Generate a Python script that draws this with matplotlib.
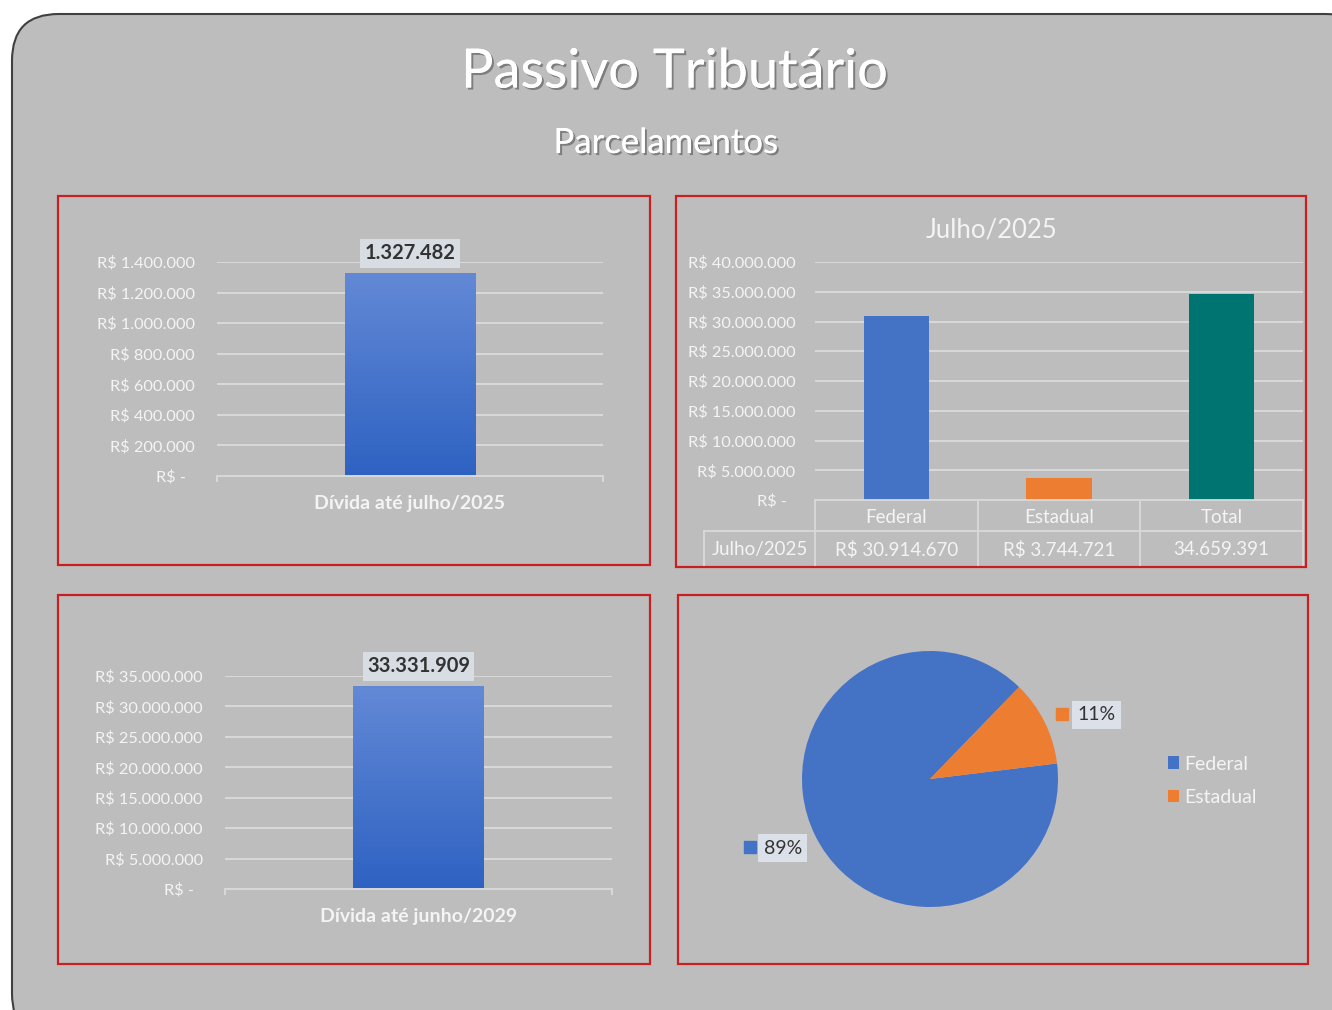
import numpy as np
import matplotlib
matplotlib.use("Agg")
import matplotlib.pyplot as plt
from matplotlib.patches import FancyBboxPatch, Rectangle
from matplotlib.ticker import FuncFormatter
import matplotlib.patheffects as pe

# data
divida_2025_label = "Dívida até julho/2025"
divida_2025 = 1327482
divida_2029_label = "Dívida até junho/2029"
divida_2029 = 33331909
julho_cats = ["Federal", "Estadual", "Total"]
julho_vals = [30914670, 3744721, 34659391]
julho_table = ["R$ 30.914.670", "R$ 3.744.721", "34.659.391"]
pie_labels = ["Federal", "Estadual"]
pie_vals = [30914670, 3744721]

BG = "#BDBDBD"
WHITE = "#F4F4F4"
GRID = "#D9D9D9"
BLUE = "#4472C4"
ORANGE = "#ED7D31"
TEAL = "#007470"
RED = "#C82020"
FONT = "Lato"

plt.rcParams["font.family"] = [FONT, "DejaVu Sans"]

W, H = 1332, 1010
fig = plt.figure(figsize=(W / 100, H / 100), dpi=100)
fig.patch.set_facecolor("white")


def rect(x0, y0, x1, y1):
    # pixel box (top-left origin) -> figure fraction [l, b, w, h]
    return [x0 / W, 1 - y1 / H, (x1 - x0) / W, (y1 - y0) / H]


# outer rounded card
card = FancyBboxPatch((12 / W, 1 - 1040 / H), 1360 / W, 1026 / H,
                      boxstyle="round,pad=0,rounding_size=0.035",
                      transform=fig.transFigure, fc=BG, ec="#404040", lw=1.5,
                      mutation_aspect=W / H, zorder=-5)
fig.patches.append(card)

# red panel frames
for (x0, y0, x1, y1) in [(58, 196, 650, 565), (676, 196, 1306, 567),
                         (58, 595, 650, 964), (678, 595, 1308, 964)]:
    l, b, w, h = rect(x0, y0, x1, y1)
    fig.patches.append(Rectangle((l, b), w, h, transform=fig.transFigure,
                                 fill=False, ec=RED, lw=1.6, zorder=-4))

shadow = [pe.withSimplePatchShadow(offset=(1.5, -1.5), shadow_rgbFace="#555555", alpha=0.6), pe.Normal()]
fig.text(674 / W, 1 - 72 / H, "Passivo Tributário", ha="center", va="center",
         fontsize=39, color="white", path_effects=shadow)
fig.text(666 / W, 1 - 143 / H, "Parcelamentos", ha="center", va="center",
         fontsize=25, color="white", path_effects=shadow)


def money(v, pos=None):
    if v == 0:
        return "R$ -  "
    return "R$ " + f"{v:,.0f}".replace(",", ".")


def style_axes(ax, ymax, step):
    ax.set_facecolor("none")
    for s in ax.spines.values():
        s.set_visible(False)
    ax.set_ylim(0, ymax)
    ax.set_yticks(np.arange(0, ymax + 1, step))
    ax.yaxis.set_major_formatter(FuncFormatter(money))
    ax.tick_params(axis="y", length=0, colors=WHITE, labelsize=11.8, pad=16)
    ax.grid(axis="y", color=GRID, lw=1.4)
    ax.set_axisbelow(True)


def gradient_bar(ax, x, v, width):
    grad = np.linspace(0, 1, 256).reshape(-1, 1)
    cmap = matplotlib.colors.LinearSegmentedColormap.from_list("g", ["#2E62C2", "#6389D6"])
    bar = ax.bar(x, v, width=width, color="none")[0]
    im = ax.imshow(grad, extent=(x - width / 2, x + width / 2, 0, v), origin="lower",
                   cmap=cmap, aspect="auto", zorder=2)
    im.set_clip_path(bar)
    ax.annotate(f"{v:,}".replace(",", "."), xy=(x, v), xytext=(0, 7),
                textcoords="offset points", ha="center", va="bottom",
                fontsize=14.5, fontweight="bold", color="#333333",
                bbox=dict(boxstyle="square,pad=0.22", fc="#D8DCE3", ec="none"))


def single_bar_panel(box, label, value, ymax, step):
    ax = fig.add_axes(rect(*box))
    style_axes(ax, ymax, step)
    ax.set_xlim(-0.5, 0.5)
    gradient_bar(ax, 0, value, 0.337)
    ax.set_ylim(0, ymax)
    ax.spines["bottom"].set_visible(True)
    ax.spines["bottom"].set_color(GRID)
    ax.spines["bottom"].set_linewidth(1.4)
    ax.set_xticks([0])
    ax.set_xticklabels([label], fontsize=14, fontweight="bold", color=WHITE)
    ax.set_xticks([-0.5, 0.5], minor=True)
    ax.tick_params(axis="x", which="major", length=0, pad=14)
    ax.tick_params(axis="x", which="minor", length=4, color=GRID, width=1.4)
    return ax


single_bar_panel((217, 262, 603, 476), divida_2025_label, divida_2025, 1400000, 200000)
single_bar_panel((225, 676, 612, 889), divida_2029_label, divida_2029, 35000000, 5000000)

# Julho/2025 panel
ax2 = fig.add_axes(rect(815, 262, 1303, 500))
style_axes(ax2, 40000000, 5000000)
ax2.tick_params(axis="y", pad=14)
ax2.set_xlim(-0.5, 2.5)
xs = np.arange(len(julho_cats))
ax2.bar(xs, julho_vals, width=0.4, color=[BLUE, ORANGE, TEAL], zorder=2)
ax2.set_xticks([])
fig.text(992 / W, 1 - 230 / H, "Julho/2025", ha="center", va="center",
         fontsize=18.5, color=WHITE)

# data table under the axis
tr = ax2.get_xaxis_transform()
r1, r2 = -31 / 238, -65 / 238
left_x = -0.5 - 111 / 163
kw = dict(transform=tr, color=GRID, lw=1.3, clip_on=False)
ax2.plot([-0.5, 2.5], [0, 0], **kw)
ax2.plot([left_x, 2.5], [r1, r1], **kw)
for xv in [-0.5, 0.5, 1.5, 2.5]:
    ax2.plot([xv, xv], [0, r2], **kw)
ax2.plot([left_x, left_x], [r1, r2], **kw)
for i, (c, t) in enumerate(zip(julho_cats, julho_table)):
    ax2.text(i, r1 / 2 - 0.008, c, transform=tr, ha="center", va="center", fontsize=13.5, color=WHITE)
    ax2.text(i, (r1 + r2) / 2 - 0.008, t, transform=tr, ha="center", va="center", fontsize=13.5, color=WHITE)
ax2.text((left_x - 0.5) / 2, (r1 + r2) / 2 - 0.008, "Julho/2025", transform=tr, ha="center",
         va="center", fontsize=13.5, color=WHITE)

# pie panel
ax4 = fig.add_axes(rect(802, 651, 1058, 907))
ax4.set_aspect("equal")
wedges, _ = ax4.pie(pie_vals, colors=[BLUE, ORANGE], startangle=7, counterclock=False,
                    radius=1, wedgeprops=dict(linewidth=0))
ax4.set_xlim(-1, 1)
ax4.set_ylim(-1, 1)
total = sum(pie_vals)
label_pos = [(-1.15, -0.54, -1.41, -0.53), (1.30, 0.50, 1.03, 0.51)]
for v, col, (tx, ty, mx, my) in zip(pie_vals, [BLUE, ORANGE], label_pos):
    ax4.text(tx, ty, f"{v / total:.0%}", ha="center", va="center", fontsize=14,
             color="#333333", clip_on=False,
             bbox=dict(boxstyle="square,pad=0.28", fc="#DCE0E8", ec="none"))
    ax4.plot([mx], [my], marker="s", ms=8, color=col, clip_on=False)
leg = ax4.legend(wedges, pie_labels, loc="upper left", bbox_to_anchor=(1150 / W, 1 - 738 / H),
                 bbox_transform=fig.transFigure, frameon=False, fontsize=14,
                 handlelength=0.6, handleheight=0.6, handletextpad=0.25, labelspacing=0.85)
for t in leg.get_texts():
    t.set_color(WHITE)

fig.savefig("out.png", dpi=100, facecolor=fig.get_facecolor())
